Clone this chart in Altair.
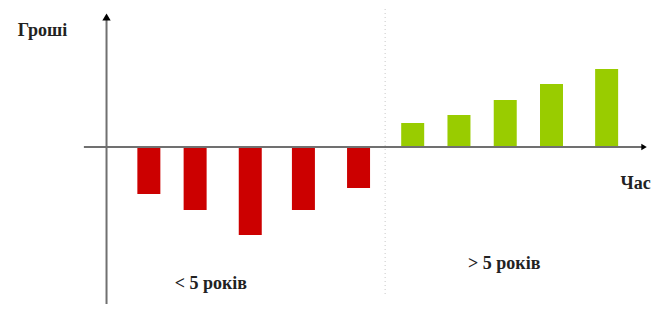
import altair as alt
import pandas as pd

# Bars: horizontal position along the time axis and money value (arbitrary units)
bar_time = [140, 187, 243, 297, 353, 408, 455, 502, 549, 605]
bar_value = [-47, -63, -88, -63, -41, 24, 32, 47, 63, 78]
bar_group = ["< 5", "< 5", "< 5", "< 5", "< 5", "> 5", "> 5", "> 5", "> 5", "> 5"]
group_colors = ["#cc0000", "#99cc00"]

# Axis geometry in data units
x_min, x_max = 2, 646
y_min, y_max = -157, 138
y_axis_x = 97
x_axis_start, x_axis_end = 74, 643
y_axis_top = 130
divider_x = 380

labels_text = ["Гроші", "Час", "< 5 років", "> 5 років"]
labels_x = [32, 619, 203, 501]
labels_y = [116, -37, -137, -117]
labels_align = ["center", "left", "center", "center"]

xs = alt.Scale(domain=[x_min, x_max], nice=False, zero=False)
ys = alt.Scale(domain=[y_min, y_max], nice=False, zero=False)

bars_df = pd.DataFrame({"t": bar_time, "v": bar_value, "g": bar_group, "z": [0] * len(bar_time)})
bars = alt.Chart(bars_df).mark_bar(size=23).encode(
    x=alt.X("t:Q", scale=xs, axis=None),
    y=alt.Y("v:Q", scale=ys, axis=None),
    y2="z:Q",
    color=alt.Color("g:N", scale=alt.Scale(domain=["< 5", "> 5"], range=group_colors), legend=None),
)

divider = alt.Chart(pd.DataFrame({"x": [divider_x], "y1": [y_max], "y2": [y_min + 10]})).mark_rule(
    color="#c8c8c8", strokeDash=[1, 3], strokeWidth=1
).encode(x=alt.X("x:Q", scale=xs, axis=None), y=alt.Y("y1:Q", scale=ys, axis=None), y2="y2:Q")

vaxis = alt.Chart(pd.DataFrame({"x": [y_axis_x], "y1": [y_axis_top], "y2": [y_min]})).mark_rule(
    color="#707070", strokeWidth=2
).encode(x=alt.X("x:Q", scale=xs, axis=None), y=alt.Y("y1:Q", scale=ys, axis=None), y2="y2:Q")

haxis = alt.Chart(pd.DataFrame({"x1": [x_axis_start], "x2": [x_axis_end], "y": [0]})).mark_rule(
    color="#707070", strokeWidth=2
).encode(x=alt.X("x1:Q", scale=xs, axis=None), x2="x2:Q", y=alt.Y("y:Q", scale=ys, axis=None))

arrow_up = alt.Chart(pd.DataFrame({"x": [y_axis_x], "y": [y_axis_top]})).mark_point(
    shape="triangle-up", filled=True, color="black", size=70, opacity=1
).encode(x=alt.X("x:Q", scale=xs, axis=None), y=alt.Y("y:Q", scale=ys, axis=None))

arrow_right = alt.Chart(pd.DataFrame({"x": [x_axis_end], "y": [0]})).mark_point(
    shape="triangle-right", filled=True, color="black", size=40, opacity=1
).encode(x=alt.X("x:Q", scale=xs, axis=None), y=alt.Y("y:Q", scale=ys, axis=None))

lab_df = pd.DataFrame({"text": labels_text, "x": labels_x, "y": labels_y, "align": labels_align})
layers = []
for al in ["center", "left"]:
    sub = lab_df[lab_df["align"] == al].reset_index(drop=True)
    layers.append(
        alt.Chart(sub).mark_text(
            font="Liberation Serif", fontWeight="bold", fontSize=18,
            color="#222222", align=al, baseline="middle"
        ).encode(x=alt.X("x:Q", scale=xs, axis=None), y=alt.Y("y:Q", scale=ys, axis=None), text="text:N")
    )

chart = alt.layer(divider, bars, haxis, vaxis, arrow_up, arrow_right, *layers).properties(
    width=644, height=295, padding=0, background="white"
).configure_view(stroke=None)

chart.save("out.html", embed_options={"renderer": "svg", "actions": False})
